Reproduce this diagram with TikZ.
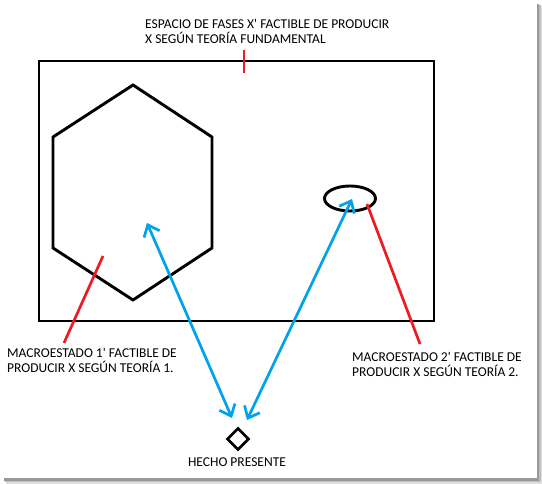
\documentclass[tikz,border=0pt]{standalone}
\usepackage{fontspec}
\setmainfont{Carlito}
\usetikzlibrary{arrows.meta, shapes.geometric}
\definecolor{azul}{RGB}{0,162,232}
\definecolor{rojo}{RGB}{237,28,36}
\tikzset{
  % Texto de las etiquetas
  texto/.style={font=\fontsize{13.5}{15.5}\selectfont, align=left,
    inner sep=0pt, text=black},
  % Trazo negro
  borde/.style={draw=black, line width=2.9pt, line join=miter},
  % Flechas azules de doble punta
  flecha/.style={draw=azul, line width=2.7pt,
    {Straight Barb[length=10pt,width=17pt]}-{Straight Barb[length=10pt,width=17pt]}},
  % Marcas rojas
  marca/.style={draw=rojo, line width=2.7pt},
}
\begin{document}
\begin{tikzpicture}[x=1pt, y=-1pt]
  \useasboundingbox (0,0) rectangle (542,484);
  % sombra del marco de la imagen
  \fill[gray!80] (536.5,4) rectangle (539,481);
  \fill[gray!50] (539,5) rectangle (540.5,482);
  \fill[gray!25] (540.5,6) rectangle (542,483);
  \fill[gray!80] (4,478.5) rectangle (539,481);
  \fill[gray!50] (5,481) rectangle (540.5,482.5);
  \fill[gray!25] (6,482.5) rectangle (542,484);

  % espacio de fases
  \draw[borde] (39,61) rectangle (434,321);
  % macroestado 1
  \draw[borde] (133,85) -- (212,137) -- (212,248) -- (133,300)
    -- (53,248) -- (53,137) -- cycle;
  % macroestado 2
  \node[borde, ellipse, minimum width=51pt, minimum height=25pt,
    inner sep=0pt] (macro2) at (350,198.5) {};
  % hecho presente
  \node[borde, diamond, minimum size=22pt, inner sep=0pt,
    line width=2.6pt] (hecho) at (238,439) {};

  \coordinate (fin1) at (147,223);
  \coordinate (fin2) at (352,199);
  \coordinate (ini1) at (232,418);
  \coordinate (ini2) at (247,420);
  \draw[flecha] (fin1) -- (ini1);
  \draw[flecha] (fin2) -- (ini2);

  % marcas rojas
  \draw[marca] (244,50) -- (244,73);
  \draw[marca] (103,256) -- (64,343);
  \draw[marca] (367,204) -- (420,344);

  \node[texto, anchor=north west] (espacio) at (145,19)
    {ESPACIO DE FASES X\textquotesingle{} FACTIBLE DE PRODUCIR\\X SEGÚN TEORÍA FUNDAMENTAL};
  \node[texto, anchor=north west] (etiq1) at (7,348)
    {MACROESTADO 1\textquotesingle{} FACTIBLE DE\\PRODUCIR X SEGÚN TEORÍA 1.};
  \node[texto, anchor=north west] (etiq2) at (352,352)
    {MACROESTADO 2\textquotesingle{} FACTIBLE DE\\PRODUCIR X SEGÚN TEORÍA 2.};
  \node[texto, anchor=north] (hechotxt) at (237,458) {HECHO PRESENTE};
\end{tikzpicture}
\end{document}
